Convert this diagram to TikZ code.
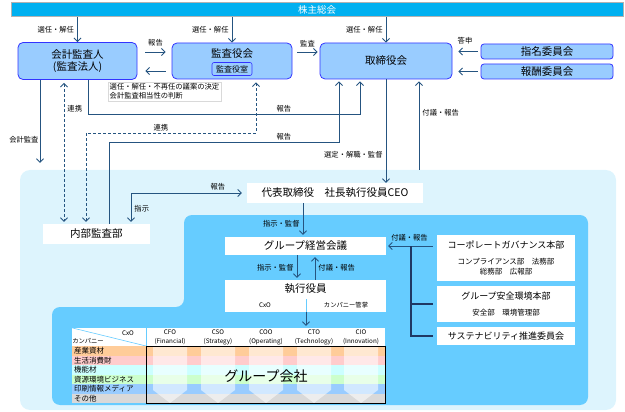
\documentclass[tikz,border=0pt]{standalone}
\usepackage{fontspec}
\setmainfont{Noto Sans CJK JP}
\usepackage{tikz}
\usetikzlibrary{arrows.meta, positioning, calc}
\definecolor{lineBlue}{RGB}{37,84,128}
\definecolor{boxBlue}{RGB}{153,204,255}
\definecolor{boxEdge}{RGB}{51,51,255}
\definecolor{agmCyan}{RGB}{0,176,240}
\definecolor{paleSky}{RGB}{221,244,253}
\definecolor{midSky}{RGB}{102,204,255}
\definecolor{brkNavy}{RGB}{31,56,100}
\definecolor{rowOrange}{RGB}{255,204,153}
\definecolor{rowPink}{RGB}{255,204,204}
\definecolor{rowCyan}{RGB}{204,255,255}
\definecolor{rowGreen}{RGB}{204,255,204}
\definecolor{rowBlue}{RGB}{153,204,255}
\definecolor{rowGray}{RGB}{217,217,217}
\tikzset{
  >={Straight Barb[length=3.5pt,width=7pt]},
  bluebox/.style={rectangle, rounded corners=5pt, draw=boxEdge, fill=boxBlue, line width=0.8pt,
              inner sep=0pt, font=\fontsize{10.5}{12}\selectfont, align=center},
  whitebox/.style={rectangle, fill=white, inner sep=0pt, font=\fontsize{10.5}{12}\selectfont, align=center},
  arrow/.style={->, line width=0.9pt, draw=lineBlue},
  dasharrow/.style={<->, line width=0.9pt, draw=lineBlue, dash pattern=on 3pt off 2pt},
  lbl/.style={font=\fontsize{7.3}{8}\selectfont, inner sep=1pt},
  tinylbl/.style={font=\fontsize{6.3}{9}\selectfont, inner sep=0pt, align=center},
  sublbl/.style={font=\fontsize{7.5}{10}\selectfont, inner sep=0pt, align=center},
  headlbl/.style={font=\fontsize{9}{11}\selectfont, inner sep=0pt},
  brk/.style={line width=1.3pt, draw=brkNavy},
}

\begin{document}
\begin{tikzpicture}[x=1pt,y=-1pt]
\useasboundingbox (0,0) rectangle (625,412);
% company regions
\node[fill=paleSky, rounded corners=10pt, minimum width=596pt, minimum height=240pt, inner sep=0pt] (group) at (318,290) {};
\fill[midSky, rounded corners=8pt] (184,215) -- (588,215) -- (588,405) -- (52,405) -- (52,307) -- (184,307) -- cycle;

% governance bodies
\node[draw=gray!60, line width=1pt, fill=agmCyan, minimum width=612pt, minimum height=14pt, inner sep=0pt,
      text=white, font=\fontsize{9.5}{10}\selectfont] (agm) at (317,10) {株主総会};
\node[bluebox, minimum width=119pt, minimum height=37pt] (auditor) at (77.5,61) {会計監査人\\(監査法人)};
\node[bluebox, minimum width=120pt, minimum height=36pt] (kansa) at (232,61) {};
\node[font=\fontsize{10.5}{12}\selectfont, inner sep=0pt] (kansaT) at (232,54) {監査役会};
\node[draw=boxEdge, fill=boxBlue, rounded corners=2pt, line width=0.6pt, minimum width=40pt, minimum height=13pt,
      inner sep=0pt, font=\fontsize{8}{9}\selectfont] (shitsu) at (232,69) {監査役室};
\node[bluebox, minimum width=132pt, minimum height=36pt] (board) at (386,61) {取締役会};
\node[bluebox, rounded corners=3pt, minimum width=132pt, minimum height=15pt] (nominate) at (547,51.5) {指名委員会};
\node[bluebox, rounded corners=3pt, minimum width=132pt, minimum height=15pt] (reward) at (547,71.5) {報酬委員会};
\node[draw=gray!30, fill=white, inner sep=1.5pt, anchor=north west, align=left,
      font=\fontsize{7.3}{9}\selectfont] (note) at (108,82) {選任・解任・不再任の議案の決定\\会計監査相当性の判断};

\draw[arrow] (agm.south -| auditor.north) -- (auditor.north) node[lbl, midway, left=2pt] {選任・解任};
\draw[arrow] (agm.south -| kansa.north) -- (kansa.north) node[lbl, midway, left=2pt] {選任・解任};
\draw[arrow] (agm.south -| board.north) -- (board.north) node[lbl, midway, left=2pt] {選任・解任};
\draw[arrow] ([xshift=8pt,yshift=9pt]auditor.east) -- ([xshift=-6pt,yshift=9pt]kansa.west) node[lbl, midway, above=4pt] {報告};
\draw[arrow] ([xshift=-6pt,yshift=-10pt]kansa.west) -- ([xshift=8pt,yshift=-10pt]auditor.east);
\draw[arrow] ([xshift=5pt,yshift=9pt]kansa.east) -- ([xshift=-2pt,yshift=9pt]board.west) node[lbl, midway, above=4pt] {監査};
\draw[arrow, shorten >=6pt] ([xshift=-3pt]nominate.west) -- (board.east |- nominate.west) node[lbl, midway, above=6pt] {答申};
\draw[arrow, shorten >=6pt] ([xshift=-3pt]reward.west) -- (board.east |- reward.west);

% executive side
\node[whitebox, minimum width=176pt, minimum height=20pt] (ceo) at (335,193) {代表取締役　社長執行役員CEO};
\node[whitebox, minimum width=107pt, minimum height=20pt] (internal) at (96.5,234) {内部監査部};
\node[whitebox, minimum width=161pt, minimum height=18pt] (mgmt) at (305.5,246) {グループ経営会議};
\node[whitebox, minimum width=161pt, minimum height=32pt] (exec) at (305.5,296) {};
\node[font=\fontsize{10.5}{12}\selectfont, inner sep=0pt] (execT) at (305.5,289) {執行役員};
\node[tinylbl] (cxo) at (265,305) {CxO};
\node[tinylbl] (company) at (346,305) {カンパニー管掌};

\node[whitebox, minimum width=138pt, minimum height=46pt] (cg) at (506,258) {};
\node[headlbl] (cgT) at (506,245) {コーポレートガバナンス本部};
\node[sublbl] (cgSub) at (506,267) {コンプライアンス部　法務部\\総務部　広報部};
\node[whitebox, minimum width=138pt, minimum height=36pt] (safety) at (506,304) {};
\node[headlbl] (safetyT) at (506,296) {グループ安全環境本部};
\node[sublbl] (safetySub) at (506,313) {安全部　環境管理部};
\node[whitebox, minimum width=138pt, minimum height=18pt, font=\fontsize{9}{11}\selectfont] (sust) at (506,336) {サステナビリティ推進委員会};

% monitoring lines
\coordinate (a0) at ([xshift=-37.5pt]auditor.south);
\coordinate (a1) at ([xshift=-13.5pt]auditor.south);
\coordinate (a2) at ([xshift=10.5pt]auditor.south);
\coordinate (k1) at ([xshift=24pt]kansa.south);
\coordinate (k2) at (86,133);
\coordinate (rep1) at (360,114);
\coordinate (rep2) at (339,142);
\coordinate (i1) at ([xshift=12.5pt]internal.north);
\coordinate (i2) at ([xshift=34.5pt]internal.north);
\coordinate (g1) at ([xshift=33pt]board.south);
\draw[arrow, shorten >=7pt] (a0) -- (a0 |- group.north) node[lbl, pos=0.67, left] {会計監査};
\draw[dasharrow, shorten <=3pt, shorten >=2pt] (a1) -- (a1 |- internal.north) node[lbl, pos=0.2, right=2pt] {連携};
\draw[dasharrow, shorten <=3pt, shorten >=2pt] (k1) |- node[lbl, pos=0.78, above] {連携} (k2) -- (k2 |- internal.north);
\draw[arrow, shorten >=2pt] (a2) |- node[lbl, pos=0.86, above] {報告} (rep1) -- (rep1 |- board.south);
\draw[arrow, shorten >=2pt] (i1) |- node[lbl, pos=0.88, above] {報告} (rep2) -- (rep2 |- board.south);
\draw[arrow] (board.south) -- (board.south |- ceo.north) node[lbl, pos=0.73, left=2pt] {選定・解職・監督};
\draw[arrow, shorten >=2pt] (g1 |- group.north) -- (g1) node[lbl, pos=0.63, right=2pt] {付議・報告};
\draw[<->, line width=0.9pt, draw=lineBlue, shorten <=2pt, shorten >=5pt] (i2) |- node[lbl, pos=0.25, right=2pt] {指示} node[lbl, pos=0.875, above=1pt] {報告} (ceo.west);

% execution lines
\coordinate (m1) at ([xshift=-32pt]ceo.south);
\coordinate (e1) at ([xshift=-8.5pt]mgmt.south);
\coordinate (e2) at ([xshift=9.5pt]exec.north);
\coordinate (x1) at ([xshift=0.5pt]exec.south);
\coordinate (cgIn) at ([xshift=-4pt]cg.west);
\coordinate (bx) at (411,246);
\draw[arrow, shorten >=2pt] (m1) -- (m1 |- mgmt.north) node[lbl, pos=0.6, left=2pt] {指示・監督};
\draw[arrow, shorten >=2pt] (e1) -- (e1 |- exec.north) node[lbl, midway, left=2pt] {指示・監督};
\draw[arrow, shorten >=2pt] (e2) -- (e2 |- mgmt.south) node[lbl, midway, right=2pt] {付議・報告};
\draw[arrow, shorten >=2pt] (cgIn |- mgmt.east) -- (mgmt.east) node[lbl, midway, above=3pt] {付議・報告};
\draw[brk] (bx) |- ([xshift=-4pt]sust.west);
\draw[brk] (bx |- safety.west) -- ([xshift=-4pt]safety.west);

% company matrix
\node[fill=white, minimum width=313pt, minimum height=18pt, inner sep=0pt] (hdr) at (228.5,337) {};
\draw[midSky, line width=0.9pt] ([yshift=13pt]x1) -- (x1);
\draw[arrow, shorten >=2pt] (x1) -- (x1 |- hdr.north);
\draw[midSky, line width=0.6pt] (hdr.north west) -- (146,346);
\draw[midSky, line width=0.8pt] (146,328) -- (146,346);
\node[tinylbl] (cxoHead) at (128,333) {CxO};
\node[tinylbl] (unitHead) at (88,341) {カンパニー};
\foreach \x/\cxo/\role in {170/CFO/Financial, 218/CSO/Strategy, 266/COO/Operating, 314/CTO/Technology, 361/CIO/Innovation}
  \node[tinylbl] (h\cxo) at (\x,337) {\cxo\\(\role)};
\foreach \name/\col [count=\i] in {産業資材/rowOrange, 生活消費財/rowPink, 機能材/rowCyan, 資源環境ビジネス/rowGreen, 印刷情報メディア/rowBlue, その他/rowGray} {
  \fill[\col] (72,{336.5+9.5*\i}) rectangle (385,{346+9.5*\i});
  \node[font=\fontsize{7.5}{8}\selectfont, inner sep=0pt, anchor=west] (unit\i) at (74,{341.25+9.5*\i}) {\name};
}
\foreach \x in {170,218,266,314,361}
  \fill[white, opacity=0.55] (\x-17,346) -- (\x+17,346) -- (\x+17,390) -- (\x,403) -- (\x-17,390) -- cycle;
\draw[black, line width=0.8pt] (146,346) rectangle (385,403);
\node[font=\fontsize{14}{16}\selectfont, inner sep=0pt] (grpco) at (266,376) {グループ会社};
\end{tikzpicture}
\end{document}
